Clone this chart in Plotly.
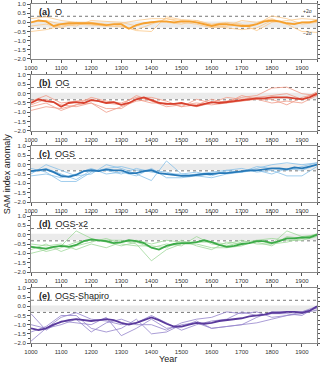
import plotly.graph_objects as go
from plotly.subplots import make_subplots

# years for the ensemble mean (25-yr steps) and members (50-yr steps)
years_mean = list(range(1000, 1951, 25))
years_memb = list(range(1000, 1951, 50))

panel_labels = ['<b>(a)</b>  O', '<b>(b)</b>  OG', '<b>(c)</b>  OGS', '<b>(d)</b>  OGS-x2', '<b>(e)</b>  OGS-Shapiro']

mean_a = [0.0, 0.1, 0.05, -0.2, -0.1, -0.05, -0.05, -0.05, -0.05, -0.1, -0.15, -0.1, -0.1, -0.35, -0.15,
          -0.05, 0.0, 0.05, 0.05, 0.0, 0.05, 0.05, 0.0, -0.1, -0.2, -0.1, -0.1, -0.15, -0.2, -0.2,
          -0.1, 0.05, 0.1, 0.05, -0.05, -0.1, 0.0, 0.0, 0.1]
memb_a = [
    [-0.5, -0.4, -0.2, -0.1, -0.15, -0.2, -0.05, 0.1, 0.2, 0.2, 0.0, -0.1, -0.3, -0.2, -0.15, -0.1, 0.35, 0.2, -0.1, 0.0],
    [0.2, 0.3, 0.1, 0.0, 0.0, -0.1, -0.2, -0.45, -0.5, 0.3, 0.15, 0.1, -0.1, 0.0, -0.1, -0.45, 0.0, 0.1, 0.2, 0.15],
    [0.0, 0.1, -0.1, -0.2, 0.1, 0.05, 0.0, -0.2, 0.05, 0.0, -0.1, 0.1, -0.15, -0.2, 0.1, 0.0, 0.2, -0.1, -0.5, -0.55],
    [-0.2, -0.1, -0.3, 0.0, -0.1, -0.2, -0.25, -0.4, -0.1, 0.2, 0.1, 0.0, -0.2, -0.3, -0.4, -0.3, 0.1, -0.1, 0.0, 0.05],
]

mean_b = [-0.5, -0.3, -0.4, -0.45, -0.7, -0.5, -0.45, -0.5, -0.35, -0.4, -0.5, -0.45, -0.6, -0.5, -0.3,
          -0.2, -0.35, -0.5, -0.55, -0.55, -0.5, -0.6, -0.65, -0.55, -0.45, -0.5, -0.45, -0.4, -0.35, -0.3,
          -0.25, -0.25, -0.2, -0.2, -0.2, -0.25, -0.3, -0.2, 0.0]
memb_b = [
    [-0.9, -0.7, -0.8, -0.6, -0.5, -1.0, -0.7, -0.4, -0.3, -0.6, -0.5, -0.7, -0.5, -0.4, -0.2, -0.1, 0.3, 0.35, 0.0, -0.1],
    [-0.4, -0.1, -0.5, -0.4, -0.3, -0.5, -0.6, -0.1, -0.4, -0.7, -0.6, -0.5, -0.6, -0.5, -0.4, -0.3, -0.3, -0.6, -0.2, 0.0],
    [-0.6, -0.3, -0.6, -0.7, -0.5, -0.8, -0.8, -0.3, -0.5, -0.5, -0.7, -0.6, -0.3, -0.5, -0.1, -0.3, -0.5, -0.4, -0.5, -0.1],
    [-0.7, -0.5, -0.9, -0.6, -0.2, -0.4, -0.5, -0.2, -0.2, -0.4, -0.7, -0.3, -0.5, -0.2, -0.3, -0.2, -0.1, 0.0, -0.3, 0.1],
]

mean_c = [-0.35, -0.3, -0.25, -0.4, -0.6, -0.65, -0.55, -0.35, -0.3, -0.35, -0.25, -0.3, -0.3, -0.45, -0.45,
          -0.35, -0.3, -0.45, -0.5, -0.55, -0.6, -0.6, -0.55, -0.5, -0.5, -0.45, -0.45, -0.4, -0.35, -0.3,
          -0.3, -0.25, -0.2, -0.2, -0.25, -0.15, -0.2, -0.1, 0.0]
memb_c = [
    [-0.5, 0.0, -0.3, -0.6, -0.5, 0.0, -0.2, -0.5, -0.85, 0.2, -0.5, -0.6, -0.7, -0.5, -0.4, -0.2, 0.0, 0.1, 0.0, 0.1],
    [-0.2, -0.4, -0.9, -0.9, -0.4, -0.2, -0.1, -0.3, -0.3, -0.4, -0.6, -0.5, -0.4, -0.3, -0.2, -0.4, -0.3, -0.6, -0.6, -0.1],
    [-0.6, -0.5, -0.7, -0.5, -0.2, -0.5, -0.4, -0.6, -0.2, -0.7, -0.7, -0.6, -0.5, -0.4, -0.4, -0.1, -0.2, -0.3, -0.1, 0.1],
    [-0.4, -0.2, -0.5, -0.8, -0.3, -0.3, -0.5, -0.2, -0.4, -0.5, -0.5, -0.4, -0.6, -0.3, -0.4, -0.3, -0.5, -0.2, -0.3, 0.0],
]

mean_d = [-0.65, -0.7, -0.75, -0.65, -0.6, -0.65, -0.55, -0.35, -0.25, -0.3, -0.35, -0.45, -0.4, -0.3, -0.35,
          -0.45, -0.7, -0.8, -0.6, -0.5, -0.45, -0.45, -0.4, -0.3, -0.4, -0.55, -0.65, -0.6, -0.5, -0.45,
          -0.35, -0.35, -0.45, -0.35, -0.2, -0.2, -0.15, -0.15, 0.0]
memb_d = [
    [-1.0, -0.8, -0.6, 0.2, -0.2, -0.4, -0.6, -0.4, -0.7, -0.5, -0.6, -0.1, -0.5, -0.6, -0.4, -0.3, -0.5, 0.2, -0.1, 0.0],
    [-0.6, -0.9, -0.7, -0.4, -0.3, -0.3, -0.3, -0.5, -1.4, -0.8, -0.5, -0.5, -0.7, -0.7, -0.6, -0.3, -0.2, -0.3, -0.3, -0.1],
    [-0.5, -0.6, -0.5, -0.8, -0.5, -0.7, -0.4, -0.3, -0.5, -0.3, -0.4, -0.4, -0.4, -0.5, -0.3, -0.5, -0.5, -0.4, -0.2, 0.05],
    [-0.8, -0.5, -0.9, -0.6, -0.4, -0.2, -0.5, -0.6, -0.6, -0.7, -0.3, -0.6, -0.8, -0.4, -0.5, -0.4, -0.6, -0.1, -0.2, 0.0],
]

mean_e = [-1.2, -1.3, -1.2, -1.0, -0.85, -0.75, -0.7, -0.75, -0.8, -0.75, -0.7, -0.75, -0.9, -1.0, -0.9,
          -0.75, -0.6, -0.75, -0.95, -1.1, -1.1, -1.0, -0.9, -0.95, -0.9, -0.8, -0.75, -0.7, -0.65, -0.55,
          -0.5, -0.45, -0.35, -0.35, -0.3, -0.3, -0.35, -0.25, 0.0]
memb_e = [
    [-1.9, -1.2, -0.6, -0.35, -0.7, -0.8, -1.0, -0.9, -0.5, -0.9, -1.3, -1.0, -0.8, -0.7, -0.3, -0.5, -0.4, -0.4, -0.5, 0.0],
    [-0.4, -1.3, -0.8, -0.9, -1.0, -0.6, -1.6, -1.2, -0.7, -1.2, -1.1, -0.8, -1.2, -1.1, -1.0, -0.6, -0.3, -0.3, -0.3, -0.1],
    [-1.0, -1.2, -1.0, -0.7, -1.4, -0.9, -0.7, -1.0, -1.0, -1.3, -0.9, -0.7, -0.6, -0.3, -0.4, -0.3, -0.6, -0.5, -0.4, -0.2],
    [-1.4, -1.1, -0.5, -0.5, -1.2, -1.4, -1.2, -0.7, -1.5, -1.4, -1.0, -0.9, -1.2, -1.1, -1.0, -0.9, -0.7, -0.5, -0.3, 0.0],
]

two_sigma = 0.33
band = [0.05, -0.28]

means = [mean_a, mean_b, mean_c, mean_d, mean_e]
members = [memb_a, memb_b, memb_c, memb_d, memb_e]
dark = ['#f5a02e', '#d8412e', '#2779b8', '#3cab48', '#5a3a9c']
light = ['#fbc98a', '#f09a88', '#88c0e8', '#9fd89a', '#9484cc']

# panel positions in paper coords
domains = [[0.8378, 1.0], [0.6254, 0.7906], [0.4159, 0.5811], [0.2094, 0.3746], [0.0, 0.1622]]

fig = make_subplots(rows=5, cols=1)
font = 'Liberation Sans, Arial, sans-serif'

for i in range(5):
    r = i + 1
    xa = 'x' if i == 0 else 'x%d' % r
    ya = 'y' if i == 0 else 'y%d' % r
    # grey band and +/-2 sigma lines
    fig.add_shape(type='rect', xref=xa, yref=ya, x0=1000, x1=1950, y0=band[1], y1=band[0],
                  fillcolor='#ebebeb', line_width=0, layer='below')
    for lv in [two_sigma, -two_sigma]:
        fig.add_shape(type='line', xref=xa, yref=ya, x0=1000, x1=1950, y0=lv, y1=lv,
                      line=dict(color='#777777', width=1, dash='dot'), layer='below')
    for m in members[i]:
        fig.add_trace(go.Scatter(x=years_memb, y=m, mode='lines', line=dict(color=light[i], width=0.8),
                                 showlegend=False, hoverinfo='skip'), row=r, col=1)
    fig.add_trace(go.Scatter(x=years_mean, y=means[i], mode='lines', line=dict(color=dark[i], width=1.8),
                             showlegend=False), row=r, col=1)
    fig.add_annotation(xref=xa + ' domain', yref=ya + ' domain', x=0.02, y=0.98, xanchor='left', yanchor='top',
                       text=panel_labels[i], showarrow=False, font=dict(size=9, color='#222222', family=font))
    fig.update_xaxes(row=r, col=1, range=[1000, 1950], tickvals=list(range(1000, 1901, 100)),
                     ticks='outside', ticklen=3, tickwidth=1, tickcolor='#555555', mirror='ticks',
                     showline=True, linecolor='#888888', linewidth=1, showgrid=False, zeroline=False,
                     showticklabels=True, tickfont=dict(size=6, color='#333333', family=font),
                     minor=dict(dtick=50, ticks='outside', ticklen=2, tickcolor='#555555'))
    fig.update_yaxes(row=r, col=1, range=[-2.0, 1.0], domain=domains[i], tickvals=[-2, -1.5, -1, -0.5, 0, 0.5, 1],
                     tickformat='.1f', ticks='outside', ticklen=3, tickwidth=1, tickcolor='#555555', mirror='ticks',
                     showline=True, linecolor='#888888', linewidth=1, showgrid=False, zeroline=False,
                     tickfont=dict(size=6, color='#333333', family=font),
                     minor=dict(dtick=0.25, ticks='outside', ticklen=2, tickcolor='#555555'))

fig.add_annotation(xref='x', yref='y', x=1945, y=two_sigma, text='+2σ', showarrow=False,
                   xanchor='right', yanchor='bottom', font=dict(size=5, color='#333333', family=font))
fig.add_annotation(xref='x', yref='y', x=1945, y=-two_sigma, text='−2σ', showarrow=False,
                   xanchor='right', yanchor='top', font=dict(size=5, color='#333333', family=font))
fig.add_annotation(xref='paper', yref='paper', x=-0.085, y=0.5, text='SAM index anomaly', textangle=-90,
                   showarrow=False, xanchor='center', yanchor='middle', font=dict(size=9, color='#222222', family=font))
fig.add_annotation(xref='paper', yref='paper', x=0.48, y=-0.046, text='Year', showarrow=False,
                   xanchor='center', yanchor='middle', font=dict(size=9, color='#222222', family=font))

fig.update_layout(width=320, height=366, margin=dict(l=31, r=3, t=4, b=23, autoexpand=False),
                  plot_bgcolor='white', paper_bgcolor='white', showlegend=False)

fig.write_html('out.html', config={'displayModeBar': False},
               post_script="document.body.style.margin='0px';document.body.style.padding='0px';")
